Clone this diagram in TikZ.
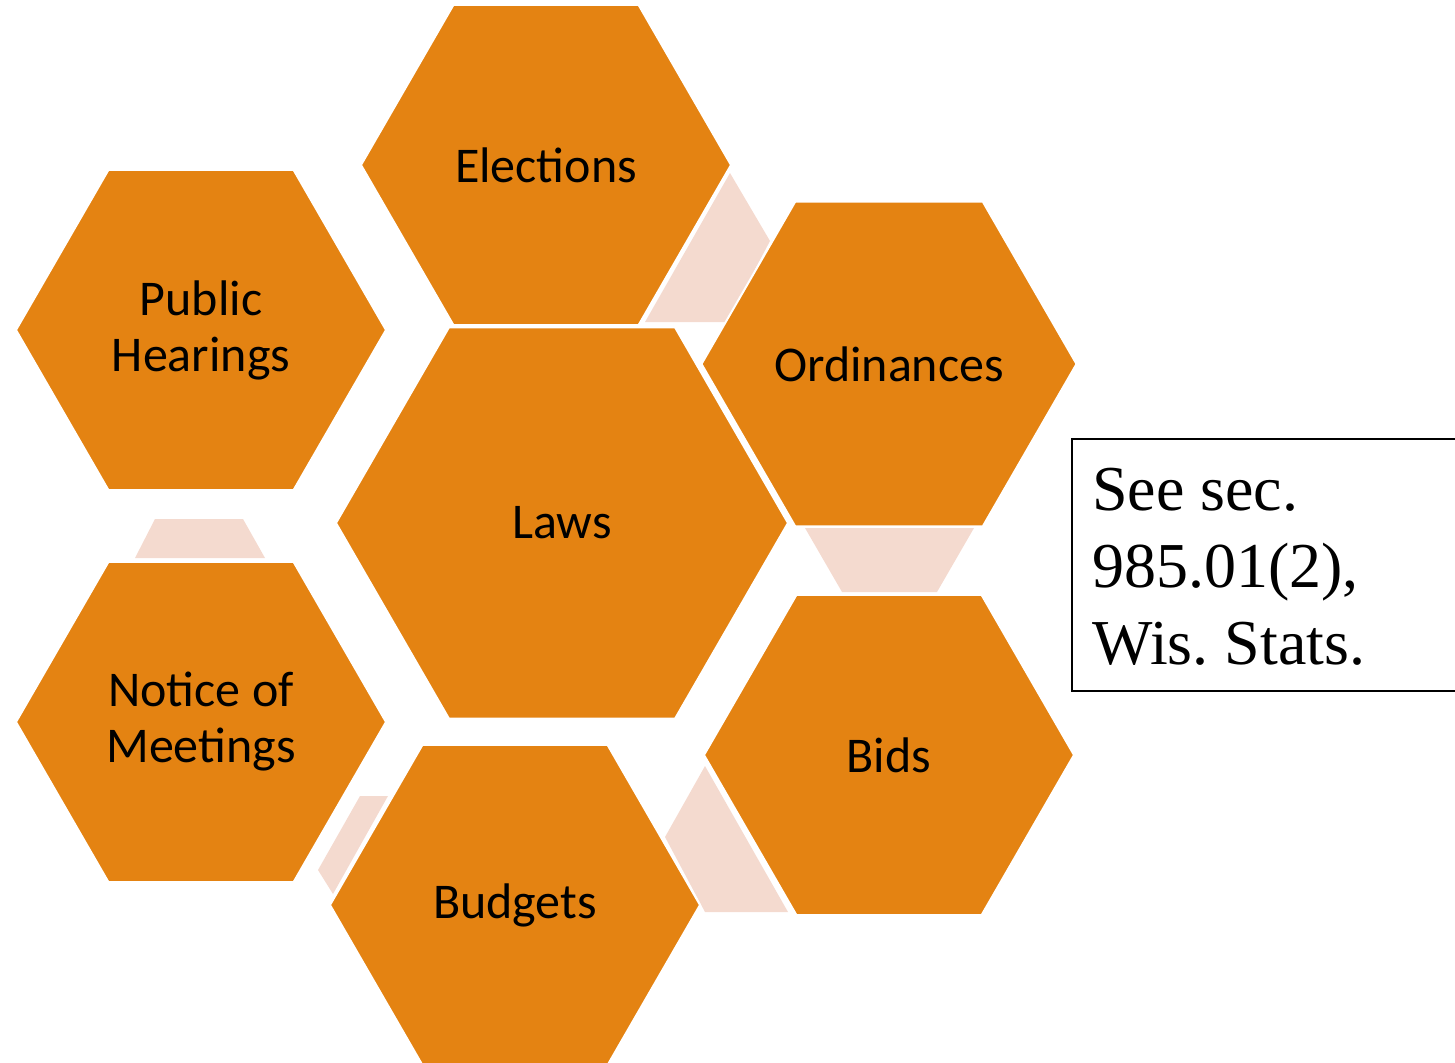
\documentclass[tikz,border=0pt]{standalone}
\usepackage{fontspec}
\setmainfont{Carlito}
\newfontfamily\boxfont{Liberation Serif}
\usetikzlibrary{shapes.geometric}
\definecolor{hexorange}{RGB}{228,131,18}
\definecolor{linkpink}{RGB}{244,218,207}
\tikzset{
  hexbox/.style={regular polygon, regular polygon sides=6, minimum size=370pt,
    inner sep=0pt, fill=hexorange, draw=white, line width=2pt, text=black,
    align=center, font=\fontsize{50}{56}\selectfont},
  bighex/.style={hexbox, minimum size=452pt},
  linkshape/.style={fill=linkpink, draw=none},
}
\begin{document}
\frenchspacing
\begin{tikzpicture}[x=1pt,y=-1pt]
\useasboundingbox (0,0) rectangle (1455,1062);
\clip (0,0) rectangle (1455,1062);
% connectors (pale shapes between hexagons)
\fill[linkshape] (730,173) -- (770,241) -- (727,322) -- (645,322) -- cycle;
\fill[linkshape] (155,519) -- (243,519) -- (265,558) -- (135,558) -- cycle;
\fill[linkshape] (360,796) -- (388,796) -- (333,894) -- (318,870) -- cycle;
\fill[linkshape] (705,766) -- (788,912) -- (705,912) -- (665,837) -- cycle;
\fill[linkshape] (805,528) -- (974,528) -- (937,592) -- (842,592) -- cycle;
% hexagons
\node[hexbox] (elections) at (546,165) {Elections};
\node[hexbox] (hearings) at (201,330) {Public\\Hearings};
\node[hexbox] (ordinances) at (889,364) {Ordinances};
\node[bighex] (laws) at (562,523) {Laws};
\node[hexbox] (notice) at (201,722) {Notice of\\Meetings};
\node[hexbox] (bids) at (889,755) {Bids};
\node[hexbox] (budgets) at (515,905) {Budgets};
% note box
\draw[black, line width=1.5pt] (1460,439) -- (1072,439) -- (1072,691) -- (1460,691);
\node[anchor=north west, inner sep=0pt, align=left, font=\boxfont\fontsize{64}{77}\selectfont] (note) at (1092,468) {See sec.\\985.01(2),\\Wis. Stats.};
\end{tikzpicture}
\end{document}
